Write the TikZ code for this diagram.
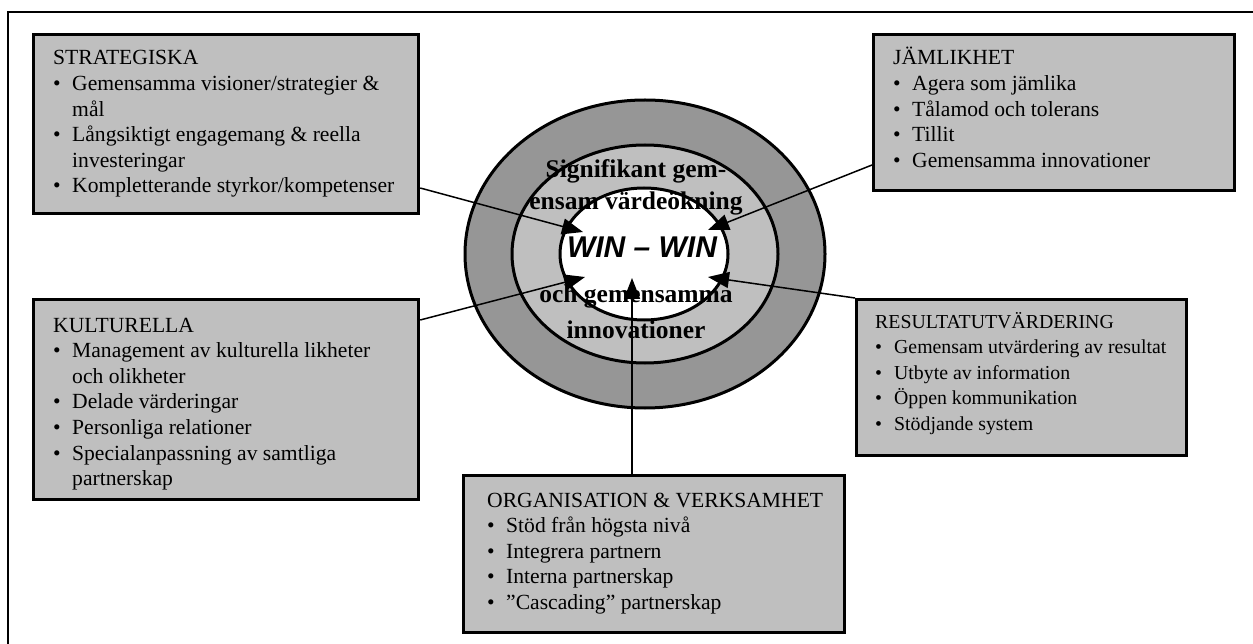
\documentclass[tikz,border=0pt]{standalone}
\usepackage{fontspec}
\setmainfont{Liberation Serif}
\newfontfamily\winfont{Liberation Sans}
\usetikzlibrary{arrows.meta,shapes.geometric,calc}

\definecolor{ringdark}{gray}{0.59}
\definecolor{ringlight}{gray}{0.75}

\tikzset{
  panel/.style={draw, line width=3.2pt, fill=ringlight, anchor=north west, inner sep=0pt},
  listtext/.style={anchor=base west, inner sep=0pt},
  ring/.style={ellipse, draw, line width=3pt, inner sep=0pt},
  centertext/.style={anchor=base, inner sep=0pt, font=\fontsize{25.5}{30}\selectfont\bfseries},
  link/.style={line width=1.5pt, -{Triangle[length=21pt,width=16pt]}},
}

% list blocks: first baseline is the block's baseline
\newcommand\listblock[2][21.6]{\vtop{\fontsize{#1}{25.6}\selectfont #2}}
\newcommand\hd[1]{\hbox{#1}}
\newcommand\itm[1]{\hbox{\makebox[19pt][l]{\textbullet}#1}}
\newcommand\cont[1]{\hbox{\hspace*{19pt}#1}}

\begin{document}
\begin{tikzpicture}[x=1pt,y=-1pt]
\useasboundingbox (0,0) rectangle (1253,644);

% outer frame
\draw[line width=1.6pt] (8,644) -- (8,12) -- (1253,12);

% factor panels
\node[panel, minimum width=385pt, minimum height=179pt] (strat) at (32,33) {};
\node[panel, minimum width=361pt, minimum height=156pt] (jam) at (872,33) {};
\node[panel, minimum width=385pt, minimum height=200pt] (kult) at (32,298) {};
\node[panel, minimum width=330pt, minimum height=156pt] (res) at (855,298) {};
\node[panel, minimum width=381pt, minimum height=157pt] (org) at (462,474) {};

\node[listtext] (strattext) at (53,65) {\listblock{%
  \hd{STRATEGISKA}
  \itm{Gemensamma visioner/strategier \&}
  \cont{mål}
  \itm{Långsiktigt engagemang \& reella}
  \cont{investeringar}
  \itm{Kompletterande styrkor/kompetenser}}};

\node[listtext] (jamtext) at (893,65) {\listblock{%
  \hd{JÄMLIKHET}
  \itm{Agera som jämlika}
  \itm{Tålamod och tolerans}
  \itm{Tillit}
  \itm{Gemensamma innovationer}}};

\node[listtext] (kulttext) at (53,332) {\listblock{%
  \hd{KULTURELLA}
  \itm{Management av kulturella likheter}
  \cont{och olikheter}
  \itm{Delade värderingar}
  \itm{Personliga relationer}
  \itm{Specialanpassning av samtliga}
  \cont{partnerskap}}};

\node[listtext] (restext) at (875,328) {\listblock[19.8]{%
  \hd{RESULTATUTVÄRDERING}
  \itm{Gemensam utvärdering av resultat}
  \itm{Utbyte av information}
  \itm{Öppen kommunikation}
  \itm{Stödjande system}}};

\node[listtext] (orgtext) at (487,507) {\listblock{%
  \hd{ORGANISATION \& VERKSAMHET}
  \itm{Stöd från högsta nivå}
  \itm{Integrera partnern}
  \itm{Interna partnerskap}
  \itm{”Cascading” partnerskap}}};

% concentric rings
\node[ring, fill=ringdark, minimum width=360pt, minimum height=308pt] (outer) at (645,254) {};
\node[ring, fill=ringlight, minimum width=266pt, minimum height=218pt] (middle) at (645,254) {};
\node[ring, fill=white, minimum width=168pt, minimum height=132pt] (inner) at (644,254) {};

\node[centertext] (sig1) at (636,178) {Signifikant gem-};
\node[centertext] (sig2) at (636,210) {ensam värdeökning};
\node[centertext] (och1) at (636,303) {och gemensamma};
\node[centertext] (och2) at (636,338) {innovationer};
\node[anchor=base, inner sep=0pt, font=\winfont\bfseries\itshape\fontsize{30}{32}\selectfont] (win) at (642,258) {WIN – WIN};

% arrow tips on the inner ring
\coordinate (tS) at (583,232);
\coordinate (tJ) at (708,230);
\coordinate (tK) at (585,277);
\coordinate (tR) at (708,277);
\coordinate (tO) at (632,278);

\draw[link] ($(strat.north east)+(0,155)$) -- (tS);
\draw[link] ($(jam.north west)+(0,132)$) -- (tJ);
\draw[link] ($(kult.north east)+(0,22)$) -- (tK);
\draw[link] (res.north west) -- (tR);
\draw[link] (tO |- org.north) -- (tO);
\end{tikzpicture}
\end{document}
